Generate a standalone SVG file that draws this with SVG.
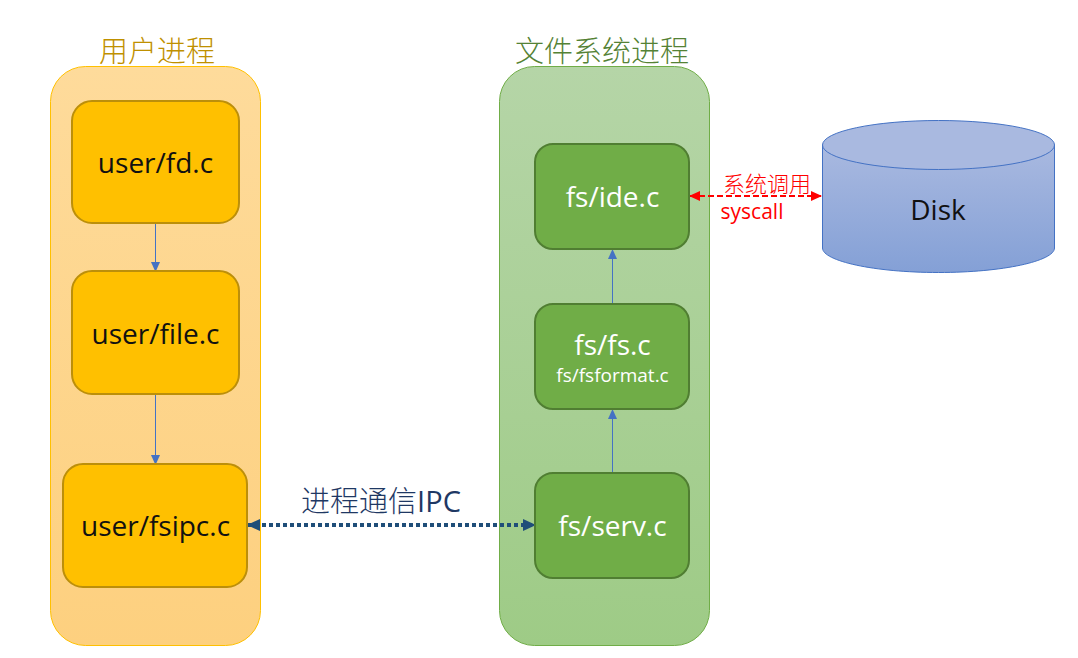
<svg xmlns="http://www.w3.org/2000/svg" width="1078" height="658" viewBox="0 0 1078 658">
<style>
text{font-family:"Open Sans","Noto Sans","Noto Sans CJK SC",sans-serif;text-anchor:middle}
.zh{font-family:"Noto Sans CJK SC",sans-serif;font-weight:300}
.lbl{font-size:28px}
.y{fill:#ffc000;stroke:#bc8f0a;stroke-width:2}
.g{fill:#70ad47;stroke:#507e32;stroke-width:2}
.k{fill:#111}
.w{fill:#fff}
.blue{stroke:#4472c4;stroke-width:1;fill:none}
</style>
<defs>
<linearGradient id="gy" x1="0" y1="0" x2="0" y2="1"><stop offset="0" stop-color="#fedb9b"/><stop offset="1" stop-color="#fdd07f"/></linearGradient>
<linearGradient id="gg" x1="0" y1="0" x2="0" y2="1"><stop offset="0" stop-color="#b5d5a7"/><stop offset="1" stop-color="#9ecb86"/></linearGradient>
<linearGradient id="gb" x1="0" y1="0" x2="0" y2="1"><stop offset="0" stop-color="#a9b9e0"/><stop offset="1" stop-color="#84a0d6"/></linearGradient>
<marker id="ab" markerUnits="userSpaceOnUse" markerWidth="10" markerHeight="10" refX="9" refY="5" orient="auto-start-reverse"><path d="M0 0.5L10 5L0 9.5Z" fill="#4472c4"/></marker>
<marker id="ar" markerUnits="userSpaceOnUse" markerWidth="11" markerHeight="11" refX="10" refY="5.5" orient="auto-start-reverse"><path d="M0 .5L11 5.5L0 10.5Z" fill="#f00"/></marker>
<marker id="an" markerUnits="userSpaceOnUse" markerWidth="13" markerHeight="13" refX="12" refY="6.5" orient="auto-start-reverse"><path d="M0 .5L13 6.5L0 12.5Z" fill="#1f4e79"/></marker>
</defs>
<g id="user-process">
<rect x="50.500" y="66.500" width="210" height="579" rx="35" fill="url(#gy)" stroke="#ffc000"/>
<text x="157" y="62" class="zh" font-size="29" fill="#bf9000">用户进程</text>
</g>
<g id="fs-process">
<rect x="499.500" y="66.500" width="210" height="579" rx="35" fill="url(#gg)" stroke="#70ad47"/>
<text x="602" y="62" class="zh" font-size="29" fill="#548235">文件系统进程</text>
</g>
<g id="connectors">
<path class="blue" d="M155.500 223V271" marker-end="url(#ab)"/>
<path class="blue" d="M155.500 394V464" marker-end="url(#ab)"/>
<path class="blue" d="M612.500 473V410" marker-end="url(#ab)"/>
<path class="blue" d="M612.500 304V250" marker-end="url(#ab)"/>
<path d="M248 525H535" fill="none" stroke="#1f4e79" stroke-width="4" stroke-dasharray="4 3" marker-start="url(#an)" marker-end="url(#an)"/>
<path d="M690 196H821" fill="none" stroke="#f00" stroke-width="2" stroke-dasharray="6 3" marker-start="url(#ar)" marker-end="url(#ar)"/>
</g>
<g id="user-fd"><rect class="y" x="72" y="101" width="167" height="122" rx="20"/><text class="lbl k" x="155.500" y="173">user/fd.c</text></g>
<g id="user-file"><rect class="y" x="72" y="271" width="167" height="123" rx="20"/><text class="lbl k" x="155.500" y="344">user/file.c</text></g>
<g id="user-fsipc"><rect class="y" x="63" y="464" width="184" height="123" rx="20"/><text class="lbl k" x="155.500" y="536">user/fsipc.c</text></g>
<g id="fs-ide"><rect class="g" x="535" y="144" width="154" height="105" rx="18"/><text class="lbl w" x="612.500" y="207">fs/ide.c</text></g>
<g id="fs-fs"><rect class="g" x="535" y="304" width="154" height="105" rx="18"/><text class="lbl w" x="612.500" y="355">fs/fs.c</text><text class="w" x="612.500" y="382" font-size="19">fs/fsformat.c</text></g>
<g id="fs-serv"><rect class="g" x="535" y="473" width="154" height="105" rx="18"/><text class="lbl w" x="612.500" y="536">fs/serv.c</text></g>
<g id="disk">
<path d="M822.500 145V248C822.500 261 874 272.500 938.500 272.500S1054.500 261 1054.500 248V145Z" fill="url(#gb)" stroke="#4472c4"/>
<ellipse cx="938.500" cy="145" rx="116" ry="24.500" fill="#a9b9e0" stroke="#4472c4"/>
<text class="lbl k" x="938" y="220">Disk</text>
</g>
<text class="zh" x="767" y="192" font-size="22" fill="#f00">系统调用</text>
<text x="752" y="219" font-size="21" fill="#f00">syscall</text>
<text x="381" y="512" font-size="29" fill="#1f3864"><tspan class="zh">进程通信</tspan>IPC</text>
</svg>
